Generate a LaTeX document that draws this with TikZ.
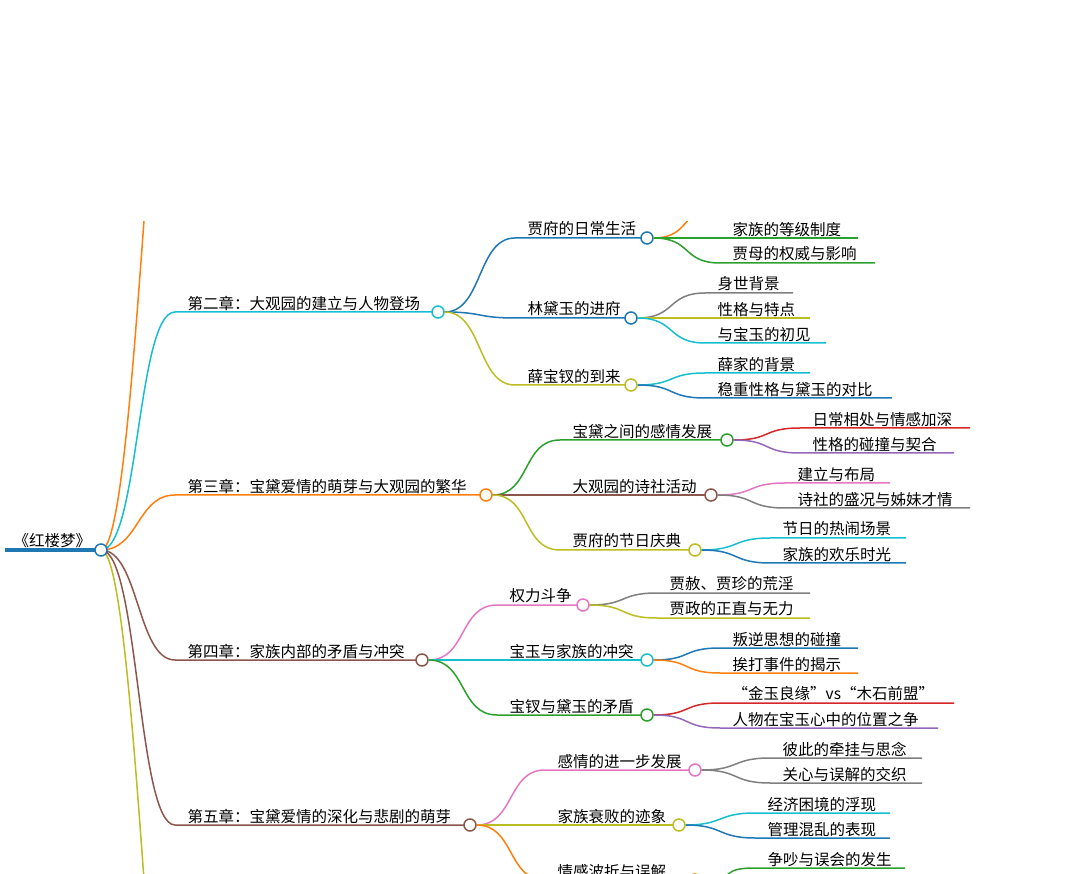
\documentclass[tikz,border=0pt]{standalone}
\usepackage{fontspec}
\setmainfont{Noto Sans CJK SC}
\definecolor{cblue}{HTML}{1F77B4}
\definecolor{corange}{HTML}{FF7F0E}
\definecolor{cgreen}{HTML}{2CA02C}
\definecolor{cred}{HTML}{D62728}
\definecolor{cpurple}{HTML}{9467BD}
\definecolor{cbrown}{HTML}{8C564B}
\definecolor{cpink}{HTML}{E377C2}
\definecolor{cgray}{HTML}{7F7F7F}
\definecolor{colive}{HTML}{BCBD22}
\definecolor{ccyan}{HTML}{17BECF}
% #1 parent, #2 name, #3 x start, #4 x end, #5 y, #6 colour, #7 text
\newcommand\leafnode[7]{%
  \coordinate (#2s) at (#3,#5);
  \coordinate (#2e) at (#4,#5);
  \draw[edge,#6] (#1) .. controls +(38,0) and +(-38,0) .. (#2s) -- (#2e);
  \node[lbl,anchor=south west,xshift=11pt] (#2t) at (#2s) {#7};}
\newcommand\branchnode[7]{%
  \leafnode{#1}{#2}{#3}{#4}{#5}{#6}{#7}
  \node[dot,draw=#6] (#2) at (#2e) {};}
\begin{document}
\begin{tikzpicture}[x=1pt,y=-1pt,
  edge/.style={line width=1.5pt},
  lbl/.style={inner sep=1.5pt,font=\fontsize{15.5}{16}\selectfont},
  dot/.style={circle,fill=white,line width=1.5pt,minimum size=12pt,inner sep=0pt}]
\useasboundingbox (0,0) rectangle (1088,874);
\clip (0,222) rectangle (1088,874);

% root
\coordinate (roots) at (5,550);
\coordinate (root) at (101,550);
\draw[cblue,line width=4pt] (roots) -- (root);
\node[lbl,anchor=south west] (roott) at (12,550) {《红楼梦》};

% chapters
\coordinate (c1e) at (190,-150);
\draw[edge,corange] (root) .. controls +(38,0) and +(-38,0) .. (c1e);
\coordinate (c6e) at (190,1250);
\draw[edge,colive] (root) .. controls +(38,0) and +(-38,0) .. (c6e);
\branchnode{root}{c2}{175}{438}{312}{ccyan}{第二章：大观园的建立与人物登场}
\branchnode{root}{c3}{175}{486}{495}{corange}{第三章：宝黛爱情的萌芽与大观园的繁华}
\branchnode{root}{c4}{175}{422}{660}{cbrown}{第四章：家族内部的矛盾与冲突}
\branchnode{root}{c5}{175}{470}{825}{cbrown}{第五章：宝黛爱情的深化与悲剧的萌芽}
\node[dot,draw=cblue] at (root) {};

% chapter 2
\branchnode{c2.east}{a1}{515}{647}{238}{cblue}{贾府的日常生活}
\branchnode{c2.east}{a2}{515}{631}{318}{cblue}{林黛玉的进府}
\branchnode{c2.east}{a3}{515}{631}{385}{colive}{薛宝钗的到来}
\leafnode{a1.east}{a10}{720}{858}{205}{corange}{}
\leafnode{a1.east}{a11}{720}{858}{238}{cgreen}{家族的等级制度}
\leafnode{a1.east}{a12}{720}{875}{263}{cgreen}{贾母的权威与影响}
\leafnode{a2.east}{a21}{705}{793}{293}{cgray}{身世背景}
\leafnode{a2.east}{a22}{705}{810}{318}{colive}{性格与特点}
\leafnode{a2.east}{a23}{705}{826}{343}{ccyan}{与宝玉的初见}
\leafnode{a3.east}{a31}{705}{810}{373}{ccyan}{薛家的背景}
\leafnode{a3.east}{a32}{705}{892}{398}{cblue}{稳重性格与黛玉的对比}

% chapter 3
\branchnode{c3.east}{b1}{560}{727}{440}{cgreen}{宝黛之间的感情发展}
\branchnode{c3.east}{b2}{560}{711}{495}{cbrown}{大观园的诗社活动}
\branchnode{c3.east}{b3}{560}{695}{550}{colive}{贾府的节日庆典}
\leafnode{b1.east}{b11}{800}{970}{428}{cred}{日常相处与情感加深}
\leafnode{b1.east}{b12}{800}{954}{453}{cpurple}{性格的碰撞与契合}
\leafnode{b2.east}{b21}{785}{890}{483}{cpink}{建立与布局}
\leafnode{b2.east}{b22}{785}{970}{508}{cgray}{诗社的盛况与姊妹才情}
\leafnode{b3.east}{b31}{770}{906}{538}{ccyan}{节日的热闹场景}
\leafnode{b3.east}{b32}{770}{906}{563}{cblue}{家族的欢乐时光}

% chapter 4
\branchnode{c4.east}{d1}{497}{583}{605}{cpink}{权力斗争}
\branchnode{c4.east}{d2}{497}{647}{660}{ccyan}{宝玉与家族的冲突}
\branchnode{c4.east}{d3}{497}{647}{715}{cgreen}{宝钗与黛玉的矛盾}
\leafnode{d1.east}{d11}{657}{810}{593}{cgray}{贾赦、贾珍的荒淫}
\leafnode{d1.east}{d12}{657}{810}{618}{colive}{贾政的正直与无力}
\leafnode{d2.east}{d21}{720}{858}{648}{cblue}{叛逆思想的碰撞}
\leafnode{d2.east}{d22}{720}{858}{673}{corange}{挨打事件的揭示}
\leafnode{d3.east}{d31}{720}{954}{703}{cred}{“金玉良缘”vs“木石前盟”}
\leafnode{d3.east}{d32}{720}{938}{728}{cpurple}{人物在宝玉心中的位置之争}

% chapter 5
\branchnode{c5.east}{e1}{545}{695}{770}{cpink}{感情的进一步发展}
\branchnode{c5.east}{e2}{545}{679}{825}{colive}{家族衰败的迹象}
\branchnode{c5.east}{e3}{545}{695}{880}{corange}{情感波折与误解}
\leafnode{e1.east}{e11}{770}{922}{758}{cgray}{彼此的牵挂与思念}
\leafnode{e1.east}{e12}{770}{922}{783}{cgray}{关心与误解的交织}
\leafnode{e2.east}{e21}{755}{890}{813}{ccyan}{经济困境的浮现}
\leafnode{e2.east}{e22}{755}{890}{838}{cblue}{管理混乱的表现}
\leafnode{e3.east}{e31}{755}{905}{868}{cgreen}{争吵与误会的发生}
\end{tikzpicture}
\end{document}
